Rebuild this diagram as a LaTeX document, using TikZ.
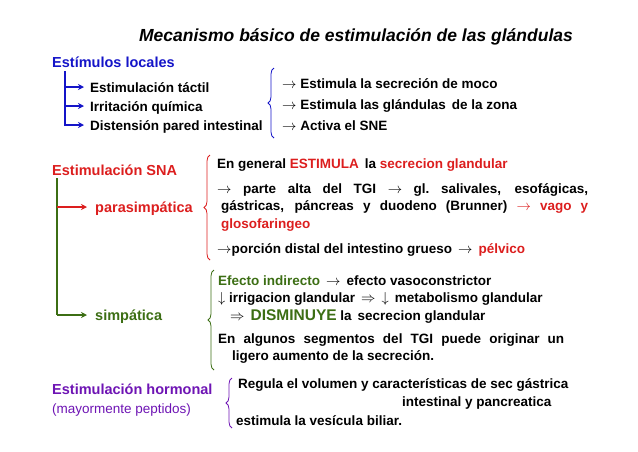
\documentclass[tikz,border=0pt]{standalone}
\usepackage{fontspec}
\setmainfont{Liberation Sans}
\usetikzlibrary{decorations.pathreplacing,arrows.meta}
\definecolor{cblue}{RGB}{20,20,200}
\definecolor{cred}{RGB}{220,30,30}
\definecolor{cgreen}{RGB}{60,110,20}
\definecolor{cpurple}{RGB}{110,20,180}
\tikzset{
 t/.style={anchor=base west,inner sep=0pt,font=\bfseries\fontsize{13.5}{15}\selectfont},
 hd/.style={t,font=\bfseries\fontsize{14.5}{16}\selectfont},
 br/.style={decorate,decoration={brace,amplitude=6pt},line width=0.8pt},
 arr/.style={-{Stealth[length=6pt,width=6pt]},line width=1.2pt},
}
\begin{document}
\begin{tikzpicture}[x=1pt,y=-1pt]
\useasboundingbox (0,0) rectangle (638,451);
\node[anchor=base,inner sep=0pt,font=\bfseries\itshape\fontsize{17.5}{19}\selectfont] (title) at (356,41) {Mecanismo básico de estimulación de las glándulas};
% locales
\node[hd,text=cblue] (loc) at (52,67) {Estímulos locales};
\node[t] (l1) at (90,92) {Estimulación táctil};
\node[t] (l2) at (90,111) {Irritación química};
\node[t] (l3) at (90,130) {Distensión pared intestinal};
\coordinate (lt) at (65,71);
\draw[cblue,line width=1.2pt] (lt) -- (65,126);
\foreach \i/\y in {1/87,2/106,3/125}{\draw[cblue,arr] (65,\y) -- ([xshift=-6pt]l\i.west |- 0,\y);}
\draw[cblue,br] (274,138) -- (274,68);
\node[t] (r1) at (282,88) {$\rightarrow$ Estimula la secreción de moco};
\node[t] (r2) at (282,109) {$\rightarrow$ Estimula las glándulas\, de la zona};
\node[t] (r3) at (282,130) {$\rightarrow$ Activa el SNE};
% SNA
\node[hd,text=cred] (sna) at (52,175) {Estimulación SNA};
\node[hd,text=cred] (para) at (95,212) {parasimpática};
\node[hd,text=cgreen] (simp) at (95,320) {simpática};
\draw[cgreen,line width=1.2pt] (57,178) -- (57,315);
\draw[cred,arr] (57,207) -- ([xshift=-8pt]para.west |- 0,207);
\draw[cgreen,arr] (57,315) -- ([xshift=-8pt]simp.west |- 0,315);
\draw[cred,br] (210,260) -- (210,155);
\node[t] (p1) at (217,168) {En general \textcolor{cred}{ESTIMULA}\, la \textcolor{cred}{secrecion glandular}};
\node[t,anchor=north west,text width=371pt,align=justify,font=\bfseries\fontsize{13.5}{17.5}\selectfont] (p2) at (217,183) {$\rightarrow$ parte alta del TGI $\rightarrow$ gl.\ salivales, esofágicas,\linebreak\hspace*{4pt}gástricas, páncreas y duodeno (Brunner) \textcolor{cred}{$\rightarrow$ vago y}\linebreak\hspace*{4pt}\textcolor{cred}{glosofaringeo}};
\node[t] (p3) at (217,253) {$\rightarrow$porción distal del intestino grueso \,$\rightarrow$\, \textcolor{cred}{pélvico}};
\draw[cgreen,br] (214,370) -- (214,270);
\node[t] (s1) at (218,285) {\textcolor{cgreen}{Efecto indirecto}\, $\rightarrow$\, efecto vasoconstrictor};
\node[t] (s2) at (218,302) {$\downarrow$ irrigacion glandular\, $\Rightarrow$\, $\downarrow$\, metabolismo glandular};
\node[t] (s3) at (218,320) {\hspace*{12pt}$\Rightarrow$\, \textcolor{cgreen}{\fontsize{15.5}{17}\selectfont DISMINUYE} la\, secrecion glandular};
\node[t,anchor=north west,text width=346pt,align=justify,font=\bfseries\fontsize{13.5}{17}\selectfont] (s4) at (218,334) {En algunos segmentos del TGI puede originar un\linebreak\hspace*{14pt}ligero aumento de la secreción.};
% hormonal
\node[hd,text=cpurple] (hor) at (52,394) {Estimulación hormonal};
\node[t,text=cpurple,font=\fontsize{13.5}{15}\selectfont] (may) at (52,413) {(mayormente peptidos)};
\draw[cpurple,br] (232,428) -- (232,378);
\node[t] (h1) at (238,388) {Regula el volumen y características de sec gástrica};
\node[t] (h2) at (402,406) {intestinal y pancreatica};
\node[t] (h3) at (236,425) {estimula la vesícula biliar.};
\end{tikzpicture}
\end{document}
